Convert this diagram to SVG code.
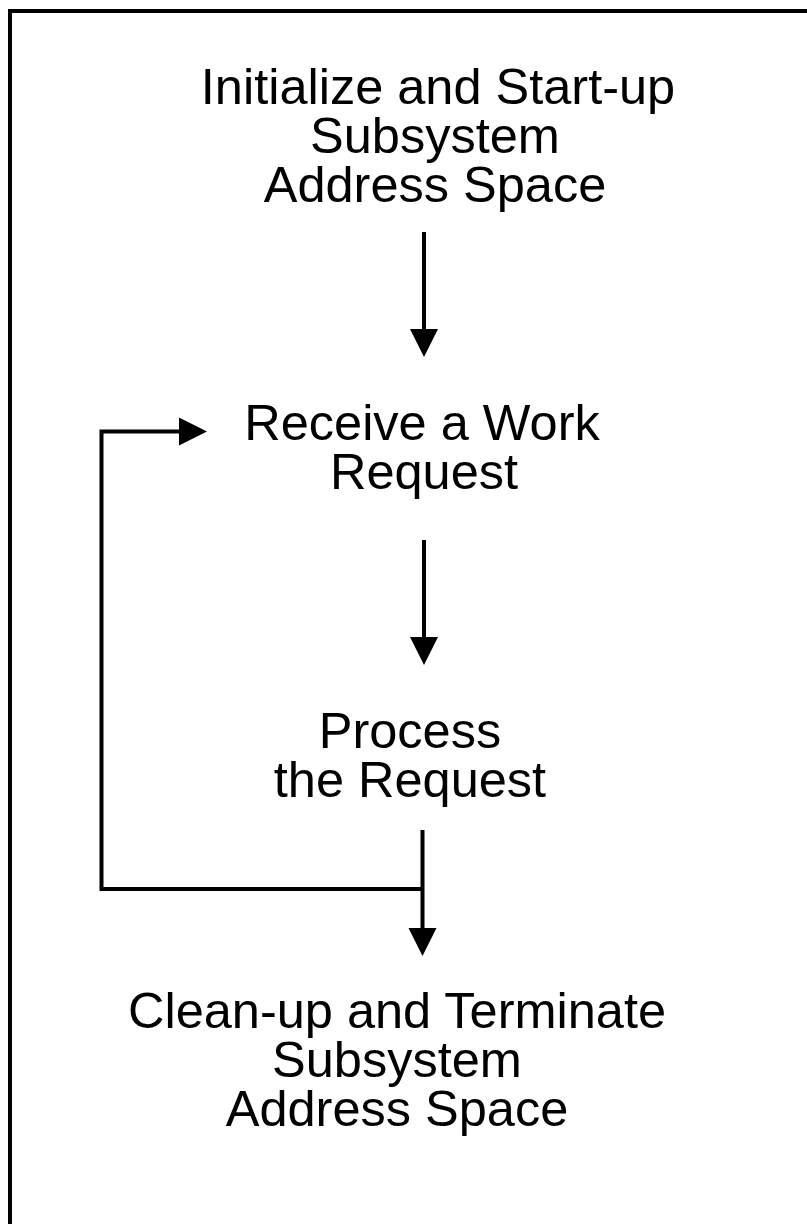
<svg xmlns="http://www.w3.org/2000/svg" width="807" height="1224" viewBox="0 0 807 1224">
<style>
.t{font-family:"Liberation Sans",Arial,sans-serif;font-size:50.5px;fill:#000;text-anchor:middle}
.c{stroke:#000;stroke-width:4;fill:none}
.h{fill:#000;stroke:none}
</style>
<rect x="0" y="0" width="807" height="1224" fill="#fff"/>
<rect x="10" y="11" width="900" height="1300" fill="none" stroke="#000" stroke-width="4"/>
<g id="n1">
<text class="t"><tspan x="438" y="104">Initialize and Start-up</tspan><tspan x="435" y="153">Subsystem</tspan><tspan x="435" y="202">Address Space</tspan></text>
</g>
<g id="n2">
<text class="t"><tspan x="422" y="440">Receive a Work</tspan><tspan x="424" y="489">Request</tspan></text>
</g>
<g id="n3">
<text class="t"><tspan x="410" y="748">Process</tspan><tspan x="410" y="797">the Request</tspan></text>
</g>
<g id="n4">
<text class="t"><tspan x="397" y="1028">Clean-up and Terminate</tspan><tspan x="397" y="1077">Subsystem</tspan><tspan x="397" y="1126">Address Space</tspan></text>
</g>
<g id="connectors">
<line class="c" x1="424" y1="232" x2="424" y2="332"/>
<polygon class="h" points="410,329 438,329 424,357"/>
<line class="c" x1="424" y1="540" x2="424" y2="640"/>
<polygon class="h" points="410,637 438,637 424,665"/>
<line class="c" x1="422.5" y1="830" x2="422.5" y2="931"/>
<polygon class="h" points="408.5,928 436.5,928 422.5,956"/>
<polyline class="c" points="422.5,889 101.5,889 101.5,431.5 182,431.5"/>
<polygon class="h" points="179,417.5 179,445.5 207,431.5"/>
</g>
</svg>
